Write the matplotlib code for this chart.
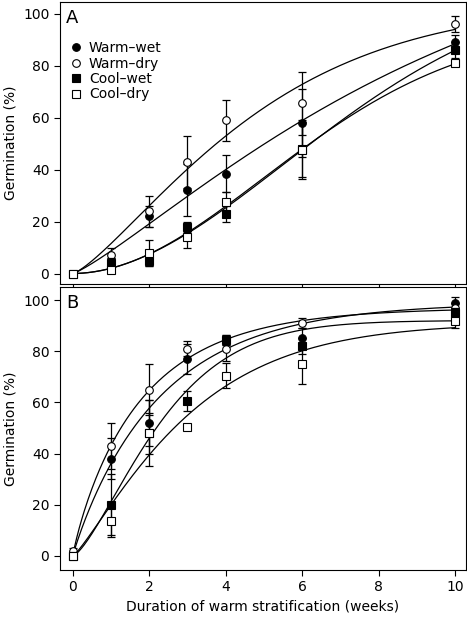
import numpy as np
import matplotlib
matplotlib.use("Agg")
import matplotlib.pyplot as plt

weeks = [0, 1, 2, 3, 4, 6, 10]
labels = ["Warm\u2013wet", "Warm\u2013dry", "Cool\u2013wet", "Cool\u2013dry"]

A_ww = [0, 4, 22, 32, 38.5, 58, 89]
A_wd = [0, 7, 24, 43, 59, 65.5, 96]
A_cw = [0, 4, 5, 18, 23, 48, 86]
A_cd = [0, 1.5, 8, 14, 27.5, 47.5, 81]
A_ww_err = [1, 2, 4, 10, 7, 13, 3]
A_wd_err = [1, 3, 6, 10, 8, 12, 3]
A_cw_err = [1, 2, 2, 2, 3, 11, 3]
A_cd_err = [1, 1, 5, 4, 4, 11, 1]

B_ww = [1, 38, 52, 77, 84.5, 85, 99]
B_wd = [2, 43, 65, 81, 81, 91, 97]
B_cw = [0, 20, 48, 60.5, 84.5, 82, 95]
B_cd = [0, 13.5, 48, 50.5, 70.5, 75, 92]
B_ww_err = [1, 8, 9, 6, 2, 4, 2]
B_wd_err = [1, 9, 10, 3, 5, 2, 2]
B_cw_err = [1, 12, 8, 4, 2, 3, 2]
B_cd_err = [1, 6, 13, 1, 5, 8, 3]

markers = [dict(marker='o', mfc='black'), dict(marker='o', mfc='white'),
           dict(marker='s', mfc='black'), dict(marker='s', mfc='white')]

def weib_fit(x, y):
    x = np.asarray(x, float); y = np.asarray(y, float)
    a = np.linspace(80, 140, 61)[:, None, None]
    b = np.linspace(0.5, 15, 146)[None, :, None]
    c = np.linspace(0.6, 3.5, 59)[None, None, :]
    sse = np.zeros((61, 146, 59))
    for xi, yi in zip(x, y):
        sse += (a * (1 - np.exp(-(xi / b) ** c)) - yi) ** 2
    i, j, k = np.unravel_index(np.argmin(sse), sse.shape)
    return a.ravel()[i], b.ravel()[j], c.ravel()[k]

fig, axes = plt.subplots(2, 1, figsize=(4.67, 6.18), dpi=100)
fig.subplots_adjust(left=0.128, right=0.998, top=0.997, bottom=0.078, hspace=0.01)
xx = np.linspace(0, 10, 300)
panels = [(axes[0], [A_ww, A_wd, A_cw, A_cd], [A_ww_err, A_wd_err, A_cw_err, A_cd_err], "A", (-4.2, 104.6)),
          (axes[1], [B_ww, B_wd, B_cw, B_cd], [B_ww_err, B_wd_err, B_cw_err, B_cd_err], "B", (-5.4, 105))]
for ax, series, errs, tag, ylim in panels:
    for s, e, lab, m in zip(series, errs, labels, markers):
        a, b, c = weib_fit(weeks, s)
        ax.plot(xx, a * (1 - np.exp(-(xx / b) ** c)), color='black', lw=0.9)
        ax.errorbar(weeks, s, yerr=e, fmt='none', ecolor='black', elinewidth=0.9, capsize=3, capthick=0.9)
        ax.plot(weeks, s, ls='none', mec='black', ms=5.5, mew=0.8, label=lab, **m)
    ax.set_xlim(-0.34, 10.29)
    ax.set_ylim(*ylim)
    ax.set_yticks([0, 20, 40, 60, 80, 100])
    ax.set_xticks([0, 2, 4, 6, 8, 10])
    ax.set_ylabel("Germination (%)", fontsize=10)
    ax.tick_params(labelsize=10, direction='out', length=4)
    ax.text(0.015, 0.975, tag, transform=ax.transAxes, fontsize=13, va='top', ha='left')
axes[0].tick_params(labelbottom=False)
axes[0].legend(loc='upper left', bbox_to_anchor=(0.0, 0.9), frameon=False, fontsize=10,
               handlelength=0.8, handletextpad=0.5, labelspacing=0.1, borderpad=0.3)
axes[1].set_xlabel("Duration of warm stratification (weeks)", fontsize=10)
fig.savefig("out.png", dpi=100)
